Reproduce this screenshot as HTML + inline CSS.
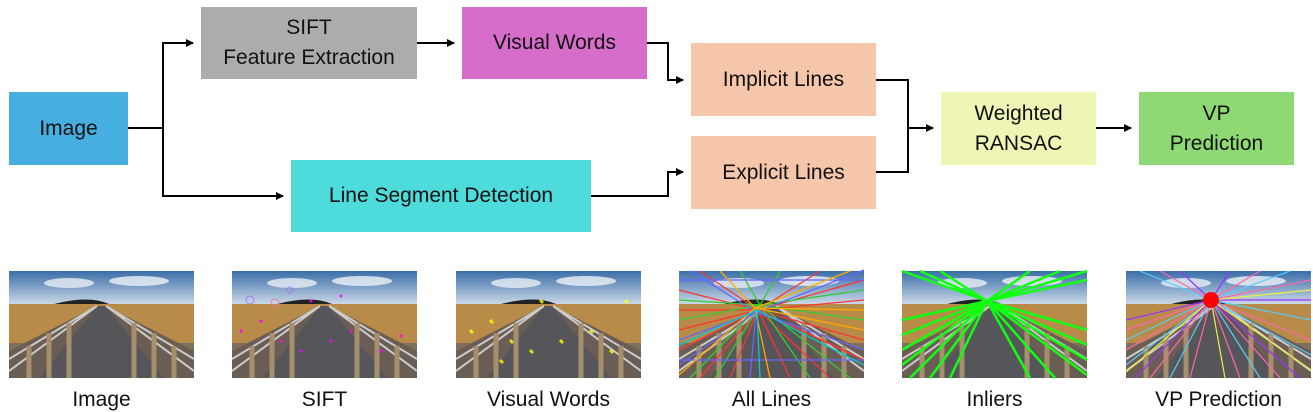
<!DOCTYPE html>
<html><head><meta charset="utf-8"><style>
body{margin:0;width:1313px;height:412px;background:#fff;position:relative;overflow:hidden;font-family:"Liberation Sans",sans-serif;}
.b{position:absolute;display:flex;align-items:center;justify-content:center;text-align:center;font-size:21px;line-height:30px;color:#111;}
.l{position:absolute;top:388px;width:185px;text-align:center;font-size:21px;color:#111;}
svg{position:absolute;left:0;top:0;}
</style></head><body>
<svg width="1313" height="412">
<defs>
<marker id="a" markerWidth="8" markerHeight="8" refX="7" refY="4" orient="auto" markerUnits="userSpaceOnUse"><path d="M0,0L8,4L0,8z" fill="#000"/></marker>
<linearGradient id="sky" x1="0" y1="0" x2="0" y2="1"><stop offset="0" stop-color="#3a6ea8"/><stop offset="1" stop-color="#c9d8e6"/></linearGradient>
<symbol id="ph" viewBox="0 0 185 107">
<rect width="185" height="33" fill="url(#sky)"/>
<ellipse cx="60" cy="12" rx="25" ry="5" fill="#e8eef4" opacity=".8"/>
<ellipse cx="130" cy="10" rx="30" ry="5" fill="#eef2f6" opacity=".8"/>
<rect y="33" width="185" height="74" fill="#b88c48"/>
<path d="M45,33Q80,24 100,33z" fill="#222"/>
<rect y="72" width="185" height="35" fill="#7e705c"/>
<path d="M88,35L97,35L155,107L30,107z" fill="#56565a"/>
<path d="M88,35L0,80L0,107L30,107z" fill="#6a5e54"/>
<path d="M97,35L185,80L185,107L155,107z" fill="#6a5e54"/>
<path d="M88,35L0,88M88,35L0,100M97,35L185,88M97,35L185,100" stroke="#ccc" stroke-width="2"/>
<path d="M20,75v32M40,62v45M60,52v55M165,75v32M145,62v45M125,52v55" stroke="#a58f6c" stroke-width="5"/>
</symbol>
</defs>
<g fill="none" stroke="#000" stroke-width="2">
<path d="M128,128H163"/>
<path d="M163,196V43H193" marker-end="url(#a)"/>
<path d="M163,128V196H283" marker-end="url(#a)"/>
<path d="M417,43H454" marker-end="url(#a)"/>
<path d="M647,43H668V80H683" marker-end="url(#a)"/>
<path d="M591,196H668V172H683" marker-end="url(#a)"/>
<path d="M876,80H908V172H876"/>
<path d="M908,128H933" marker-end="url(#a)"/>
<path d="M1096,128H1131" marker-end="url(#a)"/>
</g>
<use href="#ph" x="9" y="271" width="185" height="107"/>
<use href="#ph" x="232" y="271" width="185" height="107"/>
<use href="#ph" x="456" y="271" width="185" height="107"/>
<use href="#ph" x="679" y="271" width="185" height="107"/>
<use href="#ph" x="902" y="271" width="185" height="107"/>
<use href="#ph" x="1126" y="271" width="185" height="107"/>
<g fill="none" stroke-width="1" opacity=".8">
<circle cx="250" cy="300" r="4" stroke="#a6f"/><circle cx="275" cy="303" r="4" stroke="#f6a"/><circle cx="290" cy="290" r="3" stroke="#a6f"/>
<path d="M240,330l2,2M260,320l2,2M280,340l2,2M300,350l2,2M330,340l2,2M350,330l2,2M380,350l2,2M400,335l2,2M310,300l2,2M340,295l2,2" stroke="#f0f" stroke-width="3"/>
<path d="M470,330l3,3M490,320l3,3M510,340l3,3M530,350l3,3M560,340l3,3M590,330l3,3M610,350l3,3M625,300l3,3M540,300l3,3M500,360l3,3" stroke="#ff0" stroke-width="3"/>
</g>
<g stroke-width="1.3">
<path d="M758,310L679,290M758,310L679,330M758,310L679,350M758,310L700,378M758,310L730,378M758,310L790,378M758,310L830,378M758,310L864,360M758,310L864,340M758,310L864,300M758,310L864,280M758,310L820,271M758,310L700,271M758,310L679,310" stroke="#f33"/>
<path d="M760,305L679,300M760,305L679,320M760,305L690,378M760,305L715,378M760,305L810,378M760,305L850,378M760,305L864,320M760,305L864,290M760,305L780,271M760,305L740,271" stroke="#3c3"/>
<path d="M756,312L679,340M756,312L679,365M756,312L750,378M756,312L864,350M756,312L864,270M756,312L690,271M679,360H864M679,280H864" stroke="#66f"/>
<path d="M755,308L679,375M755,308L770,378M755,308L864,330M755,308L864,310M755,308L850,271M755,308L720,271" stroke="#fa0"/>
<path d="M757,310L679,345M757,310L760,378M757,310L864,365" stroke="#0cc"/>
</g>
<g stroke="#1f1" stroke-width="2.5">
<path d="M987,301L902,320M987,301L902,335M987,301L902,350M987,301L902,365M987,301L910,378M987,301L930,378M987,301L950,378M987,301L1030,378M987,301L1055,378M987,301L1087,375M987,301L1087,360M987,301L1087,345M987,301L1087,330M987,301L902,271M987,301L920,271M987,301L940,271M987,301L1030,271M987,301L1060,271M987,301L1087,280M987,301L1087,271"/>
</g>
<g stroke-width="1.2">
<path d="M1211,300L1126,330M1211,300L1126,350M1211,300L1150,378M1211,300L1190,378M1211,300L1240,378M1211,300L1280,378M1211,300L1311,340M1211,300L1311,280M1211,300L1260,271M1211,300L1160,271" stroke="#f6a"/>
<path d="M1211,300L1126,340M1211,300L1126,365M1211,300L1170,378M1211,300L1260,378M1211,300L1311,355M1211,300L1311,320M1211,300L1290,271M1211,300L1140,271" stroke="#5cf"/>
<path d="M1211,300L1126,320M1211,300L1135,378M1211,300L1300,378M1211,300L1311,300M1211,300L1230,271M1211,300L1180,271" stroke="#93f"/>
<path d="M1211,300L1126,372M1211,300L1225,378M1211,300L1311,370M1211,300L1311,290" stroke="#ee4"/>
</g>
<circle cx="1211" cy="300" r="8" fill="#f00"/>
</svg>
<div class="b" style="left:9px;top:92px;width:119px;height:73px;background:#47afe0">Image</div>
<div class="b" style="left:201px;top:7px;width:216px;height:72px;background:#acacac">SIFT<br>Feature Extraction</div>
<div class="b" style="left:462px;top:7px;width:185px;height:72px;background:#d76dca">Visual Words</div>
<div class="b" style="left:691px;top:43px;width:185px;height:73px;background:#f6c6aa">Implicit Lines</div>
<div class="b" style="left:691px;top:136px;width:185px;height:73px;background:#f6c6aa">Explicit Lines</div>
<div class="b" style="left:291px;top:160px;width:300px;height:72px;background:#4ddbdb">Line Segment Detection</div>
<div class="b" style="left:941px;top:92px;width:155px;height:73px;background:#eff5b5">Weighted<br>RANSAC</div>
<div class="b" style="left:1139px;top:92px;width:155px;height:73px;background:#8ed973">VP<br>Prediction</div>
<div class="l" style="left:9px">Image</div>
<div class="l" style="left:232px">SIFT</div>
<div class="l" style="left:456px">Visual Words</div>
<div class="l" style="left:679px">All Lines</div>
<div class="l" style="left:902px">Inliers</div>
<div class="l" style="left:1126px">VP Prediction</div>
</body></html>
